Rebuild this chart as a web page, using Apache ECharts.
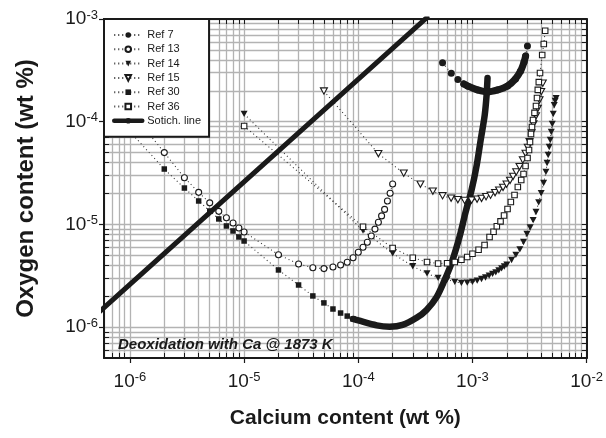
<!DOCTYPE html>
<html>
<head>
<meta charset="utf-8">
<script src="https://cdn.jsdelivr.net/npm/echarts@6/dist/echarts.min.js"></script>
<style>html,body{margin:0;padding:0;background:#fff}#c{width:606px;height:438px}</style>
</head>
<body>
<div id="c"></div>
<script>
// ---------- data ----------
const ref7 = [[5.47e-4,3.75e-4],[6.52e-4,2.96e-4],[7.45e-4,2.58e-4],[8.41e-4,2.33e-4],[9.06e-4,2.23e-4],[1.11e-3,2.04e-4],[1.355e-3,1.95e-4],[1.66e-3,2.04e-4],[2.03e-3,2.23e-4],[2.38e-3,2.61e-4],[2.64e-3,3.12e-4],[2.83e-3,3.81e-4],[2.92e-3,4.36e-4],[3.03e-3,5.46e-4]];
const ref7Dense = [[8.41e-4,2.33e-4],[9.06e-4,2.23e-4],[1.11e-3,2.04e-4],[1.355e-3,1.95e-4],[1.66e-3,2.04e-4],[2.03e-3,2.23e-4],[2.38e-3,2.61e-4],[2.64e-3,3.12e-4],[2.83e-3,3.81e-4],[2.92e-3,4.36e-4]];
const ref13 = [[1e-6,1.3e-4],[2e-6,5.0e-5],[3e-6,2.85e-5],[4e-6,2.05e-5],[5e-6,1.62e-5],[6e-6,1.34e-5],[7e-6,1.16e-5],[8e-6,1.03e-5],[9e-6,9.23e-6],[1e-5,8.44e-6],[2e-5,5.07e-6],[3e-5,4.11e-6],[4e-5,3.78e-6],[5e-5,3.71e-6],[6e-5,3.85e-6],[7e-5,4.02e-6],[8e-5,4.28e-6],[9e-5,4.74e-6],[1.0e-4,5.35e-6],[1.1e-4,5.98e-6],[1.2e-4,6.69e-6],[1.3e-4,7.7e-6],[1.4e-4,9.0e-6],[1.5e-4,1.05e-5],[1.6e-4,1.21e-5],[1.7e-4,1.40e-5],[1.8e-4,1.69e-5],[1.9e-4,2.01e-5],[2.0e-4,2.47e-5]];
const ref14 = [[1e-5,1.19e-4],[1.1e-4,8.72e-6],[2e-4,5.21e-6],[3e-4,3.91e-6],[4e-4,3.33e-6],[5e-4,3.01e-6],[6e-4,2.92e-6],[7e-4,2.75e-6],[8e-4,2.69e-6],[9e-4,2.71e-6],[1.0e-3,2.75e-6],[1.1e-3,2.83e-6],[1.2e-3,2.94e-6],[1.3e-3,3.04e-6],[1.4e-3,3.17e-6],[1.5e-3,3.29e-6],[1.6e-3,3.41e-6],[1.7e-3,3.56e-6],[1.8e-3,3.73e-6],[1.9e-3,3.89e-6],[2.0e-3,4.05e-6],[2.2e-3,4.50e-6],[2.4e-3,5.04e-6],[2.6e-3,5.72e-6],[2.8e-3,6.74e-6],[3.0e-3,8.06e-6],[3.2e-3,9.33e-6],[3.4e-3,1.10e-5],[3.6e-3,1.32e-5],[3.8e-3,1.64e-5],[4.0e-3,2.02e-5],[4.2e-3,2.53e-5],[4.4e-3,3.24e-5],[4.5e-3,3.96e-5],[4.6e-3,4.74e-5],[4.7e-3,5.67e-5],[4.8e-3,6.63e-5],[4.9e-3,7.94e-5],[5.0e-3,9.50e-5],[5.1e-3,1.19e-4],[5.2e-3,1.45e-4],[5.3e-3,1.59e-4],[5.4e-3,1.70e-4]];
const ref15 = [[5e-5,1.99e-4],[1.5e-4,4.88e-5],[2.5e-4,3.15e-5],[3.5e-4,2.47e-5],[4.5e-4,2.11e-5],[5.47e-4,1.90e-5],[6.5e-4,1.80e-5],[7.45e-4,1.74e-5],[8.53e-4,1.71e-5],[9.82e-4,1.72e-5],[1.097e-3,1.76e-5],[1.201e-3,1.79e-5],[1.315e-3,1.86e-5],[1.44e-3,1.92e-5],[1.577e-3,2.04e-5],[1.709e-3,2.15e-5],[1.852e-3,2.29e-5],[1.988e-3,2.46e-5],[2.133e-3,2.68e-5],[2.266e-3,2.93e-5],[2.416e-3,3.24e-5],[2.583e-3,3.65e-5],[2.761e-3,4.24e-5],[2.915e-3,4.92e-5],[3.053e-3,5.63e-5],[3.16e-3,6.39e-5],[3.29e-3,7.76e-5],[3.424e-3,9.50e-5],[3.60e-3,1.14e-4],[3.734e-3,1.35e-4],[3.865e-3,1.63e-4],[3.998e-3,1.96e-4],[4.129e-3,2.37e-4]];
const ref30 = [[1e-6,8.0e-5],[2e-6,3.46e-5],[3e-6,2.26e-5],[4e-6,1.69e-5],[5e-6,1.35e-5],[6e-6,1.13e-5],[7e-6,9.65e-6],[8e-6,8.63e-6],[9e-6,7.54e-6],[1e-5,6.89e-6],[2e-5,3.60e-6],[3e-5,2.57e-6],[4e-5,2.01e-6],[5e-5,1.72e-6],[6e-5,1.50e-6],[7e-5,1.37e-6],[8e-5,1.28e-6],[9e-5,1.20e-6]];
const ref30Dense = [[9e-5,1.20e-6],[1e-4,1.16e-6],[1.45e-4,1.04e-6],[1.88e-4,1.01e-6],[2.44e-4,1.05e-6],[3.24e-4,1.23e-6],[3.96e-4,1.47e-6],[4.85e-4,1.96e-6],[5.7e-4,2.87e-6],[6.56e-4,4.21e-6],[7.7e-4,7.54e-6],[8.71e-4,1.32e-5],[9.82e-4,2.16e-5],[1.09e-3,3.79e-5],[1.18e-3,6.63e-5],[1.28e-3,1.16e-4],[1.33e-3,1.82e-4],[1.355e-3,2.66e-4]];
const ref36 = [[1e-5,9.08e-5],[1.1e-4,9.50e-6],[2e-4,5.89e-6],[3e-4,4.74e-6],[4e-4,4.30e-6],[5e-4,4.16e-6],[6e-4,4.18e-6],[7e-4,4.30e-6],[8e-4,4.53e-6],[9e-4,4.82e-6],[1.0e-3,5.18e-6],[1.131e-3,5.67e-6],[1.276e-3,6.30e-6],[1.411e-3,7.54e-6],[1.529e-3,8.49e-6],[1.634e-3,9.58e-6],[1.761e-3,1.07e-5],[1.89e-3,1.22e-5],[2.028e-3,1.41e-5],[2.168e-3,1.65e-5],[2.335e-3,1.93e-5],[2.496e-3,2.31e-5],[2.673e-3,2.71e-5],[2.80e-3,3.10e-5],[2.915e-3,3.70e-5],[3.035e-3,4.43e-5],[3.128e-3,5.30e-5],[3.19e-3,6.34e-5],[3.256e-3,7.59e-5],[3.321e-3,8.88e-5],[3.39e-3,1.04e-4],[3.494e-3,1.22e-4],[3.60e-3,1.42e-4],[3.674e-3,1.70e-4],[3.734e-3,2.04e-4],[3.81e-3,2.43e-4],[3.904e-3,2.98e-4],[4.08e-3,4.46e-4],[4.213e-3,5.71e-4],[4.333e-3,7.69e-4]];
const stoichLine = [[5e-7,1.3e-6],[4e-4,1.036e-3]];

const legendNames = ['Ref 7','Ref 13','Ref 14','Ref 15','Ref 30','Ref 36','Sotich. line'];
const xLabelTicks = [1e-6,1e-5,1e-4,1e-3,1e-2];
const yLabelTicks = [1e-6,1e-5,1e-4,1e-3];
const xDecades = [1e-7,1e-6,1e-5,1e-4,1e-3];
const yDecades = [1e-7,1e-6,1e-5,1e-4];
const minorMultipliers = [2,3,4,5,6,7,8,9];
const X_MIN = 5.93e-7, X_MAX = 1e-2, Y_MIN = 5.0e-7, Y_MAX = 1e-3;

// ---------- helpers ----------
function minorsIn(decades, lo, hi) {
  const out = [];
  decades.forEach(d => minorMultipliers.forEach(m => {
    const v = +(m * d).toPrecision(3);
    if (v > lo * 1.0001 && v < hi * 0.9999) out.push(v);
  }));
  return out;
}
const xMinor = minorsIn(xDecades, X_MIN, X_MAX);
const yMinor = minorsIn(yDecades, Y_MIN, Y_MAX);
const xAll = xMinor.concat(xLabelTicks).sort((a,b)=>a-b);
const yAll = yMinor.concat(yLabelTicks).sort((a,b)=>a-b);

const FONT = '"Liberation Sans", Arial, Helvetica, sans-serif';
const INK = '#1a1a1a';
const GRID = '#b3b3b3';
const expLabel = v => '{b|10}{s|' + Math.round(Math.log10(v)) + '}';
const labelRich = {
  b: {fontSize: 19, fontFamily: FONT, color: INK, lineHeight: 21},
  s: {fontSize: 13, fontFamily: FONT, color: INK, lineHeight: 13, verticalAlign: 'top'}
};
const frame = {show: true, onZero: false, lineStyle: {color: INK, width: 2}};
const dotted = {type: [1, 3], width: 1.1, color: '#333'};
const filled = {color: INK};
const open = {color: '#fff', borderColor: INK, borderWidth: 1.1};
const downTri = 'path://M0,0L10,0L5,9Z';
const SERIES_Z = 2;

function axisX(extra) {
  return Object.assign({type: 'log', logBase: 10, min: X_MIN, max: X_MAX, gridIndex: 0}, extra);
}
function axisY(extra) {
  return Object.assign({type: 'log', logBase: 10, min: Y_MIN, max: Y_MAX, gridIndex: 0}, extra);
}

const legendData = legendNames.map(n => n === 'Sotich. line'
  ? {name: n, lineStyle: {width: 4.5, color: INK, type: 'solid'}, itemStyle: {color: INK}}
  : {name: n});

const chart = echarts.init(document.getElementById('c'), null, {renderer: 'canvas'});
chart.setOption({
  animation: false,
  backgroundColor: '#fff',
  grid: {left: 104, top: 19, right: 18, bottom: 80, containLabel: false},
  title: {
    text: 'Deoxidation with Ca @ 1873 K', left: 113, top: 332, z: 10,
    textStyle: {fontSize: 15, fontWeight: 'bold', fontStyle: 'italic', color: INK, fontFamily: FONT}
  },
  legend: {
    data: legendData, orient: 'vertical', left: 104, top: 19, z: 20,
    padding: [9, 8, 9, 8], itemWidth: 28, itemHeight: 7, itemGap: 0.3,
    backgroundColor: '#fff', borderColor: INK, borderWidth: 2, borderRadius: 0,
    textStyle: {fontSize: 11, color: INK, fontFamily: FONT, lineHeight: 14},
    selectedMode: false
  },
  xAxis: [
    axisX({
      position: 'bottom', axisLine: frame,
      axisTick: {show: true, inside: false, length: 5, customValues: xLabelTicks, lineStyle: {color: INK, width: 1.2}},
      axisLabel: {show: true, customValues: xLabelTicks, formatter: expLabel, rich: labelRich, margin: 13},
      splitLine: {show: true, lineStyle: {color: GRID, width: 1.3}},
      name: 'Calcium content (wt %)', nameLocation: 'middle', nameGap: 50,
      nameTextStyle: {fontSize: 21, fontWeight: 'bold', color: INK, fontFamily: FONT}
    }),
    axisX({
      position: 'bottom', axisLine: {show: false},
      axisTick: {show: true, inside: true, length: 5, customValues: xMinor, lineStyle: {color: INK, width: 1}},
      axisLabel: {show: false},
      splitLine: {show: true, lineStyle: {color: GRID, width: 1.3}}
    }),
    axisX({
      position: 'top', axisLine: frame,
      axisTick: {show: true, inside: true, length: 5, customValues: xAll, lineStyle: {color: INK, width: 1}},
      axisLabel: {show: false}, splitLine: {show: false}
    })
  ],
  yAxis: [
    axisY({
      position: 'left', axisLine: frame,
      axisTick: {show: true, inside: false, length: 5, customValues: yLabelTicks, lineStyle: {color: INK, width: 1.2}},
      axisLabel: {show: true, customValues: yLabelTicks, formatter: expLabel, rich: labelRich, margin: 6},
      splitLine: {show: true, lineStyle: {color: GRID, width: 1.3}},
      name: 'Oxygen content (wt %)', nameLocation: 'middle', nameGap: 66, nameRotate: 90,
      nameTextStyle: {fontSize: 24, fontWeight: 'bold', color: INK, fontFamily: FONT}
    }),
    axisY({
      position: 'left', axisLine: {show: false},
      axisTick: {show: true, inside: true, length: 5, customValues: yMinor, lineStyle: {color: INK, width: 1}},
      axisLabel: {show: false},
      splitLine: {show: true, lineStyle: {color: GRID, width: 1.3}}
    }),
    axisY({
      position: 'right', axisLine: frame,
      axisTick: {show: true, inside: true, length: 5, customValues: yAll, lineStyle: {color: INK, width: 1}},
      axisLabel: {show: false}, splitLine: {show: false}
    })
  ],
  series: [
    {name: 'Ref 7', type: 'line', data: ref7, symbol: 'circle', symbolSize: 7, showAllSymbol: true,
     itemStyle: filled, lineStyle: dotted, z: SERIES_Z},
    {name: 'Ref 13', type: 'line', data: ref13, symbol: 'circle', symbolSize: 6, showAllSymbol: true,
     itemStyle: open, lineStyle: dotted, z: SERIES_Z},
    {name: 'Ref 14', type: 'line', data: ref14, symbol: downTri, symbolSize: [7, 6.3], showAllSymbol: true,
     itemStyle: filled, lineStyle: dotted, z: SERIES_Z},
    {name: 'Ref 15', type: 'line', data: ref15, symbol: downTri, symbolSize: [7, 6.3], showAllSymbol: true,
     itemStyle: open, lineStyle: dotted, z: SERIES_Z},
    {name: 'Ref 30', type: 'line', data: ref30, symbol: 'rect', symbolSize: 5.5, showAllSymbol: true,
     itemStyle: filled, lineStyle: dotted, z: SERIES_Z},
    {name: 'Ref 36', type: 'line', data: ref36, symbol: 'rect', symbolSize: 5.5, showAllSymbol: true,
     itemStyle: open, lineStyle: dotted, z: SERIES_Z},
    {name: 'Sotich. line', type: 'line', data: stoichLine, symbol: 'none',
     itemStyle: {color: INK}, lineStyle: {color: INK, width: 5, cap: 'round'}, z: SERIES_Z},
    {name: 'Ref 7', type: 'line', data: ref7Dense, symbol: 'none', smooth: 0.3,
     itemStyle: filled, lineStyle: {color: INK, width: 7, type: 'solid', cap: 'round', join: 'round'}, z: SERIES_Z},
    {name: 'Ref 30', type: 'line', data: ref30Dense, symbol: 'none', smooth: 0.3,
     itemStyle: filled, lineStyle: {color: INK, width: 6.5, type: 'solid', cap: 'round', join: 'round'}, z: SERIES_Z}
  ]
});
</script>
</body>
</html>
